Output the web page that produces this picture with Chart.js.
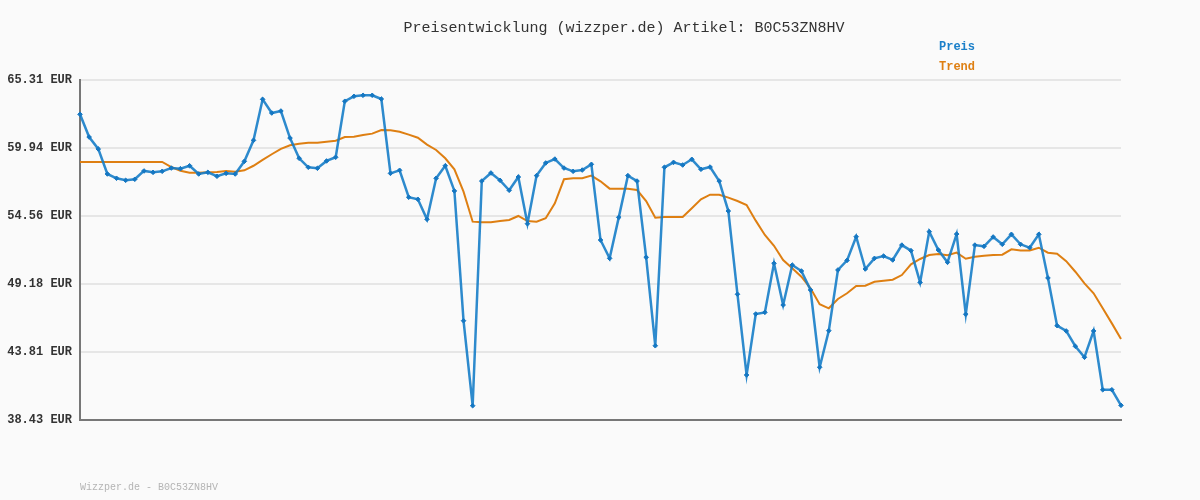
<!DOCTYPE html>
<html>
<head>
<meta charset="utf-8">
<script src="https://cdn.jsdelivr.net/npm/chart.js@4.4.0/dist/chart.umd.min.js"></script>
<style>
  html, body { margin: 0; padding: 0; background: #fafafa; }
  #wrap { width: 1200px; height: 500px; position: relative; }
</style>
</head>
<body>
<div id="wrap"><canvas id="c" width="1200" height="500"></canvas></div>
<script>
const titleText = 'Preisentwicklung (wizzper.de) Artikel: B0C53ZN8HV';
const footerText = 'Wizzper.de - B0C53ZN8HV';
const seriesNames = ['Preis', 'Trend'];

const preis = [
  62.60, 60.80, 59.86, 57.88, 57.54, 57.38, 57.46, 58.12, 58.01, 58.09,
  58.35, 58.30, 58.53, 57.88, 58.01, 57.70, 57.93, 57.88, 58.88, 60.54,
  63.78, 62.70, 62.86, 60.72, 59.12, 58.41, 58.33, 58.91, 59.20, 63.63,
  64.02, 64.10, 64.10, 63.81, 57.93, 58.17, 56.04, 55.88, 54.30, 57.54,
  58.53, 56.54, 46.28, 39.56, 57.32, 57.96, 57.38, 56.59, 57.64, 53.95,
  57.75, 58.75, 59.06, 58.35, 58.09, 58.19, 58.64, 52.66, 51.21, 54.45,
  57.75, 57.32, 51.29, 44.30, 58.41, 58.80, 58.59, 59.04, 58.25, 58.43,
  57.32, 54.95, 48.37, 41.99, 46.81, 46.94, 50.82, 47.52, 50.68, 50.21,
  48.71, 42.60, 45.49, 50.29, 51.05, 52.92, 50.37, 51.21, 51.39, 51.08,
  52.26, 51.82, 49.31, 53.32, 51.87, 50.90, 53.13, 46.79, 52.26, 52.16,
  52.90, 52.32, 53.11, 52.32, 52.05, 53.11, 49.66, 45.89, 45.47, 44.26,
  43.39, 45.47, 40.82, 40.82, 39.59
];

const trend = [
  58.83, 58.83, 58.83, 58.83, 58.83, 58.83, 58.83, 58.83, 58.83, 58.83,
  58.43, 58.14, 57.98, 57.98, 58.01, 58.04, 58.12, 58.06, 58.17, 58.53,
  58.99, 59.44, 59.86, 60.15, 60.27, 60.35, 60.35, 60.43, 60.51, 60.80,
  60.83, 60.96, 61.07, 61.36, 61.33, 61.22, 60.99, 60.75, 60.20, 59.78,
  59.12, 58.25, 56.48, 54.11, 54.06, 54.06, 54.16, 54.24, 54.56, 54.16,
  54.11, 54.38, 55.56, 57.46, 57.54, 57.54, 57.75, 57.30, 56.72, 56.72,
  56.72, 56.61, 55.74, 54.42, 54.48, 54.48, 54.48, 55.17, 55.88, 56.24,
  56.24, 56.01, 55.74, 55.43, 54.19, 53.06, 52.20, 51.08, 50.42, 49.76,
  48.84, 47.58, 47.26, 48.00, 48.45, 49.02, 49.05, 49.36, 49.44, 49.52,
  49.89, 50.74, 51.16, 51.47, 51.55, 51.45, 51.66, 51.18, 51.34, 51.42,
  51.47, 51.50, 51.92, 51.84, 51.84, 52.05, 51.66, 51.58, 50.99, 50.15,
  49.23, 48.45, 47.26, 46.07, 44.83
];

const yTicks = [38.43, 43.81, 49.18, 54.56, 59.94, 65.31];
const yTickLabels = ['38.43 EUR', '43.81 EUR', '49.18 EUR', '54.56 EUR', '59.94 EUR', '65.31 EUR'];

const labels = preis.map((_, i) => String(i + 1));

const overlay = {
  id: 'overlay',
  afterDraw(chart) {
    const ctx = chart.ctx;
    ctx.save();
    ctx.textBaseline = 'middle';
    ctx.fillStyle = '#333333';
    ctx.font = '15px "Liberation Mono", "DejaVu Sans Mono", monospace';
    ctx.textAlign = 'center';
    ctx.fillText(titleText, 624, 28);
    ctx.textAlign = 'left';
    ctx.font = 'bold 12px "Liberation Mono", "DejaVu Sans Mono", monospace';
    ctx.fillStyle = '#1a7fc9';
    ctx.fillText(seriesNames[0], 939, 47);
    ctx.fillStyle = '#de7f12';
    ctx.fillText(seriesNames[1], 939, 67);
    ctx.font = '10px "Liberation Mono", "DejaVu Sans Mono", monospace';
    ctx.fillStyle = '#b4b4b4';
    ctx.fillText(footerText, 80, 487);
    ctx.restore();
  }
};

new Chart(document.getElementById('c'), {
  type: 'line',
  data: {
    labels: labels,
    datasets: [
      {
        label: seriesNames[1],
        data: trend,
        borderColor: '#de7f12',
        borderWidth: 2,
        pointRadius: 0,
        tension: 0,
        order: 2
      },
      {
        label: seriesNames[0],
        data: preis,
        borderColor: 'rgba(22,125,200,0.9)',
        borderWidth: 2.5,
        pointStyle: 'rectRot',
        pointRadius: 2.3,
        pointBackgroundColor: '#1577c2',
        pointBorderColor: '#1577c2',
        pointBorderWidth: 1,
        tension: 0,
        order: 1
      }
    ]
  },
  options: {
    responsive: false,
    animation: false,
    devicePixelRatio: 1,
    layout: { padding: { left: 0, right: 79, top: 80, bottom: 80 } },
    plugins: {
      legend: { display: false },
      title: { display: false },
      tooltip: { enabled: false }
    },
    scales: {
      x: {
        type: 'category',
        offset: false,
        grid: { display: false, drawTicks: false },
        border: { display: true, color: '#777777', width: 2 },
        ticks: { display: false },
        afterFit(scale) { scale.height = 0; }
      },
      y: {
        min: yTicks[0],
        max: yTicks[yTicks.length - 1],
        afterBuildTicks(scale) {
          scale.ticks = yTicks.map(v => ({ value: v }));
        },
        afterFit(scale) { scale.width = 80; },
        grid: { color: '#e6e6e6', lineWidth: 2, drawTicks: false },
        border: { display: true, color: '#777777', width: 2 },
        ticks: {
          padding: 8,
          color: '#333333',
          font: { family: '"Liberation Mono", "DejaVu Sans Mono", monospace', size: 12, weight: 'bold' },
          callback(value, index) { return yTickLabels[index]; }
        }
      }
    }
  },
  plugins: [overlay]
});
</script>
</body>
</html>
